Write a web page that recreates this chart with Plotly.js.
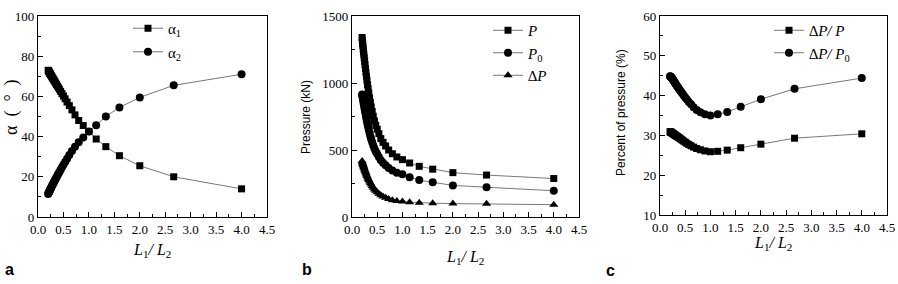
<!DOCTYPE html>
<html>
<head>
<meta charset="utf-8">
<script src="https://cdn.plot.ly/plotly-3.0.1.min.js"></script>
<style>html,body{margin:0;padding:0;background:#fff;}#chart{width:898px;height:284px;}</style>
</head>
<body>
<div id="chart"></div>
<script>
// L1/L2 ratios
const ratio = [0.2, 0.205, 0.211, 0.216, 0.222, 0.229, 0.235, 0.242, 0.25, 0.258, 0.267, 0.276, 0.286, 0.296, 0.308, 0.32, 0.333, 0.348, 0.364, 0.381, 0.4, 0.421, 0.444, 0.471, 0.5, 0.533, 0.571, 0.615, 0.667, 0.727, 0.8, 0.889, 1.0, 1.143, 1.333, 1.6, 2.0, 2.667, 4.0];
// panel a (degrees)
const alpha1 = [73, 72.8, 72.5, 72.3, 72.0, 71.7, 71.4, 71.1, 70.8, 70.4, 70.0, 69.6, 69.2, 68.8, 68.3, 67.8, 67.2, 66.6, 65.9, 65.2, 64.4, 63.5, 62.5, 61.4, 60.2, 58.8, 57.2, 55.4, 53.3, 50.8, 48, 45.5, 42.5, 38.8, 35, 30.5, 25.5, 20, 14];
const alpha2 = [11.5, 11.8, 12.1, 12.4, 12.7, 13.1, 13.4, 13.8, 14.2, 14.6, 15.1, 15.5, 16.0, 16.5, 17.1, 17.7, 18.3, 19.0, 19.8, 20.6, 21.5, 22.4, 23.5, 24.7, 26.0, 27.4, 29.0, 30.8, 32.8, 35.0, 37.2, 39.5, 42.5, 45.7, 50, 54.5, 59.5, 65.5, 71];
// panel b (kN)
const pressP = [1340, 1320, 1297, 1278, 1256, 1232, 1212, 1189, 1163, 1137, 1109, 1080, 1050, 1021, 988, 957, 925, 890, 856, 822, 787, 752, 717, 684, 655, 622, 585, 557, 530, 500, 472, 448, 428, 403, 378, 357, 331, 313, 287];
const pressP0 = [915, 906, 895, 884, 870, 854, 841, 825, 808, 791, 772, 753, 733, 714, 692, 671, 649, 626, 603, 580, 557, 534, 511, 489, 470, 448, 423, 404, 387, 366, 347, 331, 319, 296, 276, 259, 236, 222, 196];
const pressDP = [418, 408, 400, 394, 386, 378, 371, 364, 355, 346, 337, 327, 317, 307, 296, 286, 276, 264, 253, 242, 230, 218, 206, 195, 185, 174, 162, 153, 143, 134, 125, 119, 116, 111, 107, 103, 100, 98, 92];
// panel c (%)
const pctDPP = [30.9, 30.9, 30.85, 30.8, 30.75, 30.7, 30.65, 30.6, 30.5, 30.45, 30.35, 30.3, 30.2, 30.1, 30.0, 29.9, 29.8, 29.7, 29.5, 29.4, 29.2, 29.0, 28.8, 28.55, 28.3, 28.0, 27.7, 27.4, 27.05, 26.7, 26.4, 26.1, 25.9, 26.0, 26.3, 26.9, 27.8, 29.3, 30.4];
const pctDPP0 = [44.85, 44.8, 44.75, 44.7, 44.6, 44.5, 44.4, 44.3, 44.15, 44.0, 43.8, 43.6, 43.4, 43.2, 43.0, 42.75, 42.5, 42.2, 41.9, 41.6, 41.3, 40.9, 40.5, 40.0, 39.5, 39.0, 38.4, 37.8, 37.1, 36.4, 35.8, 35.3, 35.0, 35.3, 35.9, 37.2, 39.1, 41.7, 44.4];

const W = 898, H = 284;
const px = v => v / W;
const py = v => 1 - v / H;
const LINE = {color: '#555', width: 0.8};
function tr(y, name, sym, size, xa, ya, leg, grp) {
  return {x: ratio, y: y, name: name, type: 'scatter', mode: 'lines+markers',
    xaxis: xa, yaxis: ya, legend: leg, legendgroup: grp,
    line: LINE, marker: {symbol: sym, size: size, color: '#000'}};
}
const data = [
  tr(alpha1, 'α<sub>1</sub>', 'square', 7, 'x', 'y', 'legend', 'a1'),
  tr(alpha2, 'α<sub>2</sub>', 'circle', 8, 'x', 'y', 'legend', 'a2'),
  tr(pressP, '<i>P</i>', 'square', 7, 'x2', 'y2', 'legend2', 'b1'),
  tr(pressP0, '<i>P</i><sub>0</sub>', 'circle', 8, 'x2', 'y2', 'legend2', 'b2'),
  tr(pressDP, '<i>∆P</i>', 'triangle-up', 8, 'x2', 'y2', 'legend2', 'b3'),
  tr(pctDPP, '<i>∆P/ P</i>', 'square', 7, 'x3', 'y3', 'legend3', 'c1'),
  tr(pctDPP0, '<i>∆P/ P</i><sub>0</sub>', 'circle', 8, 'x3', 'y3', 'legend3', 'c2')
];
const tickFont = {family: 'Liberation Serif, serif', size: 13, color: '#000'};
function xax(d, anchor) {
  return {domain: d, anchor: anchor, range: [0, 4.5], dtick: 0.5, tick0: 0, tickformat: '.1f',
    ticks: 'inside', ticklen: 5, tickwidth: 1, tickcolor: '#000',
    minor: {ticks: 'inside', ticklen: 3, dtick: 0.25, tickcolor: '#000'},
    showline: true, linecolor: '#000', linewidth: 1.2, mirror: true,
    showgrid: false, zeroline: false, tickfont: tickFont, fixedrange: true};
}
function yax(d, anchor, r, dt) {
  return {domain: d, anchor: anchor, range: r, dtick: dt, tick0: 0,
    ticks: 'inside', ticklen: 5, tickwidth: 1, tickcolor: '#000',
    minor: {ticks: 'inside', ticklen: 3, dtick: dt / 2, tickcolor: '#000'},
    showline: true, linecolor: '#000', linewidth: 1.2, mirror: true,
    showgrid: false, zeroline: false, tickfont: tickFont, fixedrange: true};
}
const legFont = {family: 'Liberation Serif, serif', size: 15, color: '#000'};
function leg(x, y, gap) {
  return {x: px(x), y: py(y), xanchor: 'left', yanchor: 'top', font: legFont,
    bgcolor: 'rgba(0,0,0,0)', borderwidth: 0, tracegroupgap: gap, itemwidth: 30};
}
const serifT = {family: 'Liberation Serif, serif', size: 16, color: '#000'};
const alphaT = {family: 'Liberation Serif, serif', size: 18, color: '#000'};
const sansT = {family: 'Liberation Sans, Arial, sans-serif', size: 12, color: '#000'};
const letterF = {family: 'Liberation Sans, Arial, sans-serif', size: 16, color: '#000'};
function ann(text, x, y, font, angle) {
  return {text: text, x: px(x), y: py(y), xref: 'paper', yref: 'paper', showarrow: false,
    xanchor: 'center', yanchor: 'middle', font: font, textangle: angle || 0};
}
const xTitle = '<i>L</i><sub>1</sub><i>/ L</i><sub>2</sub>';
const layout = {
  width: W, height: H, margin: {l: 0, r: 0, t: 0, b: 0},
  paper_bgcolor: '#fff', plot_bgcolor: '#fff', showlegend: true,
  xaxis: xax([px(38), px(267)], 'y'),
  yaxis: yax([1 - 217 / H, 1 - 16 / H], 'x', [0, 100], 20),
  xaxis2: xax([px(352), px(579)], 'y2'),
  yaxis2: yax([1 - 217 / H, 1 - 16 / H], 'x2', [0, 1500], 500),
  xaxis3: xax([px(660), px(887)], 'y3'),
  yaxis3: yax([1 - 215 / H, 1 - 16 / H], 'x3', [10, 60], 10),
  legend: leg(128, 12, 1),
  legend2: leg(488, 14, 0),
  legend3: leg(769, 14, 0),
  annotations: [
    ann(xTitle, 152, 250, serifT),
    ann(xTitle, 465, 257, serifT),
    ann(xTitle, 773, 243, serifT),
    ann('α\u00a0\u00a0(\u00a0\u00a0°\u00a0\u00a0)', 11, 107, alphaT, -90),
    ann('Pressure (kN)', 306, 117, sansT, -90),
    ann('Percent of pressure (%)', 621, 113, sansT, -90),
    {text: '<b>a</b>', x: px(3), y: py(269), xref: 'paper', yref: 'paper', showarrow: false, xanchor: 'left', yanchor: 'middle', font: letterF},
    {text: '<b>b</b>', x: px(300), y: py(269), xref: 'paper', yref: 'paper', showarrow: false, xanchor: 'left', yanchor: 'middle', font: letterF},
    {text: '<b>c</b>', x: px(604), y: py(270), xref: 'paper', yref: 'paper', showarrow: false, xanchor: 'left', yanchor: 'middle', font: letterF}
  ]
};
Plotly.newPlot('chart', data, layout, {staticPlot: true, displayModeBar: false});
</script>
</body>
</html>
